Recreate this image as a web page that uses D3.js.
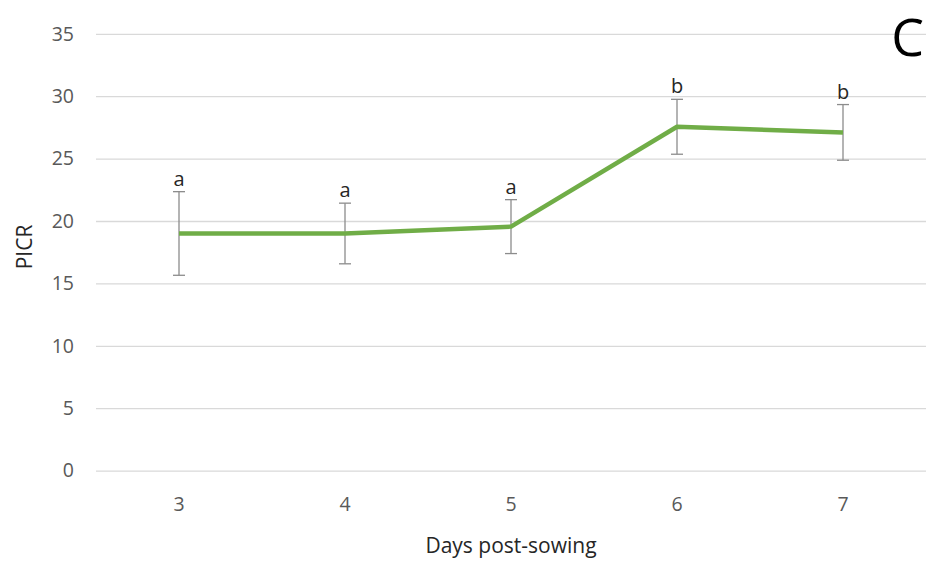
<!DOCTYPE html>
<html>
<head>
<meta charset="utf-8">
<script src="https://cdn.jsdelivr.net/npm/d3@7"></script>
<style>
html,body{margin:0;padding:0;background:#fff;}
svg{display:block;}
</style>
</head>
<body>
<svg id="chart" width="927" height="561"></svg>
<script>
const days = ["3", "4", "5", "6", "7"];
const picr = [19.0, 19.0, 19.55, 27.55, 27.1];
const errors = [3.35, 2.43, 2.16, 2.2, 2.23];
const letters = ["a", "a", "a", "b", "b"];
const yTicks = [0, 5, 10, 15, 20, 25, 30, 35];
const xTitle = "Days post-sowing";
const yTitle = "PICR";
const panelLabel = "C";

(function () {
const svg = d3.select("#chart");
const font = "'Open Sans', 'Noto Sans', sans-serif";
const pLeft = 96, pRight = 926, pTop = 33.8, pBottom = 470.6;

const x = d3.scaleBand().domain(days).range([pLeft, pRight]).paddingInner(0).paddingOuter(0);
const y = d3.scaleLinear().domain([0, 35]).range([pBottom, pTop]);
const cx = d => x(d) + x.bandwidth() / 2;

// gridlines
const yAxis = d3.axisLeft(y).tickValues(yTicks).tickSize(-(pRight - pLeft)).tickPadding(22).tickFormat(d3.format("d"));
const gy = svg.append("g").attr("transform", `translate(${pLeft},0)`).call(yAxis);
gy.select(".domain").remove();
gy.selectAll(".tick line").attr("stroke", "#d9d9d9").attr("stroke-width", 1.3);
gy.selectAll(".tick text").attr("fill", "#595959").style("font-family", font).style("font-size", "19.5px").attr("x", -22);

// x axis
const xAxis = d3.axisBottom(x).tickSize(0).tickPadding(27);
const gx = svg.append("g").attr("transform", `translate(0,${pBottom})`).call(xAxis);
gx.select(".domain").remove();
gx.selectAll(".tick text").attr("fill", "#595959").style("font-family", font).style("font-size", "19.5px");

// error bars
const eb = svg.append("g").attr("stroke", "#8c8c8c").attr("stroke-width", 1.3);
days.forEach((d, i) => {
  const xc = cx(d);
  const y1 = y(picr[i] + errors[i]), y0 = y(picr[i] - errors[i]);
  eb.append("line").attr("x1", xc).attr("x2", xc).attr("y1", y1).attr("y2", y0);
  eb.append("line").attr("x1", xc - 6).attr("x2", xc + 6).attr("y1", y1).attr("y2", y1);
  eb.append("line").attr("x1", xc - 6).attr("x2", xc + 6).attr("y1", y0).attr("y2", y0);
});

// line
const line = d3.line().x((v, i) => cx(days[i])).y(v => y(v));
svg.append("path").datum(picr).attr("d", line)
  .attr("fill", "none").attr("stroke", "#70ad47").attr("stroke-width", 4.5)
  .attr("stroke-linejoin", "round").attr("stroke-linecap", "butt");

// letters
svg.append("g").selectAll("text").data(letters).join("text")
  .attr("x", (l, i) => cx(days[i]))
  .attr("y", (l, i) => y(picr[i] + errors[i]) - 6)
  .attr("text-anchor", "middle")
  .attr("fill", "#262626")
  .style("font-family", font).style("font-size", "20px")
  .text(l => l);

// axis titles
svg.append("text").attr("x", 511).attr("y", 553).attr("text-anchor", "middle")
  .attr("fill", "#262626").style("font-family", font).style("font-size", "21px").text(xTitle);
svg.append("text").attr("transform", "translate(32,247) rotate(-90)").attr("text-anchor", "middle")
  .attr("fill", "#262626").style("font-family", font).style("font-size", "21px").text(yTitle);

// panel label
svg.append("text").attr("x", 924).attr("y", 56).attr("text-anchor", "end").attr("fill", "#000")
  .style("font-family", font).style("font-size", "52px").text(panelLabel);
})();
</script>
</body>
</html>
